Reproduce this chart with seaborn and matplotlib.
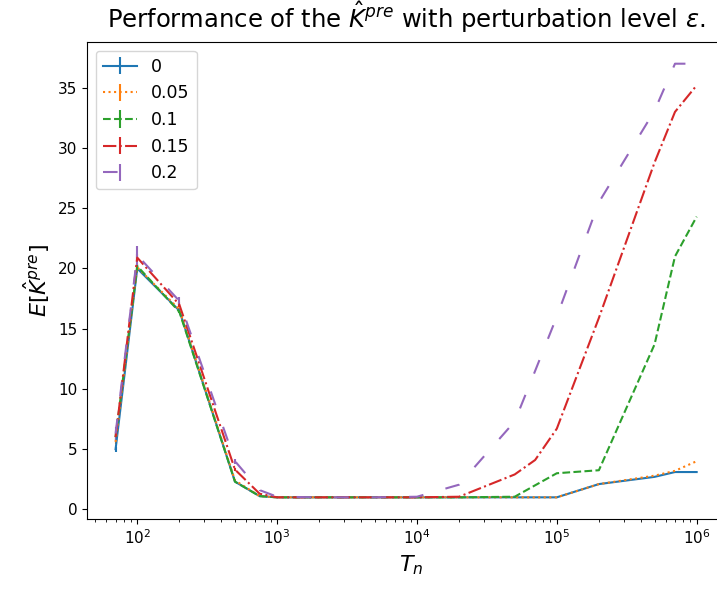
import numpy as np
import matplotlib
matplotlib.use("Agg")
import matplotlib.pyplot as plt
import seaborn as sns

# ===================== Data =====================
T_n = [70, 100, 200, 500, 750, 1000, 2000, 5000, 10000, 20000,
       50000, 70000, 100000, 200000, 500000, 700000, 1000000]

eps_labels = ["0", "0.05", "0.1", "0.15", "0.2"]

k_eps_0 = [5.0, 20.0, 16.5, 2.3, 1.1, 1.0, 1.0, 1.0, 1.0, 1.0,
           1.0, 1.0, 1.0, 2.1, 2.7, 3.1, 3.1]
k_eps_005 = [5.6, 20.1, 16.6, 2.4, 1.1, 1.0, 1.0, 1.0, 1.0, 1.0,
             1.0, 1.0, 1.0, 2.1, 2.8, 3.2, 4.0]
k_eps_01 = [6.0, 20.2, 16.4, 2.3, 1.1, 1.0, 1.0, 1.0, 1.0, 1.0,
            1.05, 2.0, 3.0, 3.25, 13.7, 21.0, 24.3]
k_eps_015 = [6.0, 20.9, 17.0, 3.3, 1.3, 1.0, 1.0, 1.0, 1.0, 1.05,
             2.9, 4.1, 6.7, 15.9, 28.8, 33.0, 35.2]
k_eps_02 = [6.3, 21.1, 17.3, 4.0, 1.6, 1.05, 1.0, 1.0, 1.05, 2.05,
            7.3, 11.5, 16.0, 25.5, 33.1, 37.0, 37.0]

# small standard errors (mostly hidden under the lines)
err_eps_0 = [0.2, 0.2, 0.1, 0.05, 0, 0, 0, 0, 0, 0, 0, 0, 0, 0, 0, 0, 0]
err_eps_005 = [0.2, 0.2, 0.1, 0.05, 0, 0, 0, 0, 0, 0, 0, 0, 0, 0, 0, 0, 0]
err_eps_01 = [0.3, 0.2, 0.1, 0.05, 0, 0, 0, 0, 0, 0, 0, 0, 0, 0, 0, 0, 0]
err_eps_015 = [0.3, 0.3, 0.2, 0.1, 0, 0, 0, 0, 0, 0, 0, 0, 0, 0, 0, 0, 0]
err_eps_02 = [0.5, 0.8, 0.3, 0.2, 0.05, 0, 0, 0, 0, 0, 0, 0, 0, 0, 0, 0, 0]

series = [k_eps_0, k_eps_005, k_eps_01, k_eps_015, k_eps_02]
errors = [err_eps_0, err_eps_005, err_eps_01, err_eps_015, err_eps_02]
styles = ["-", ":", "--", "-.", (0, (7, 11))]

# ===================== Plot =====================
palette = sns.color_palette("tab10")

fig = plt.figure(figsize=(7.17, 5.91), dpi=100)
# axes run past the right edge of the figure, as in the original crop
ax = fig.add_axes([0.1213, 0.1218, 0.9038, 0.8071])

for lab, ys, es, ls, c in zip(eps_labels, series, errors, styles, palette):
    ax.errorbar(T_n, ys, yerr=es, label=lab, linestyle=ls, color=c, linewidth=1.5)

ax.set_xscale("log")
ax.set_xlim(43.7, 1.88e6)
ax.tick_params(labelsize=11)
ax.set_xlabel("$T_n$", fontsize=16)
ax.set_ylabel(r"$E[\hat{K}^{pre}]$", fontsize=16)
ax.set_title(r"Performance of the $\hat{K}^{pre}$ with perturbation level $\epsilon$.",
             fontsize=17.5, pad=10, x=0.4918)
ax.legend(loc="upper left", fontsize=12.5)

fig.savefig("out.png", dpi=100)
